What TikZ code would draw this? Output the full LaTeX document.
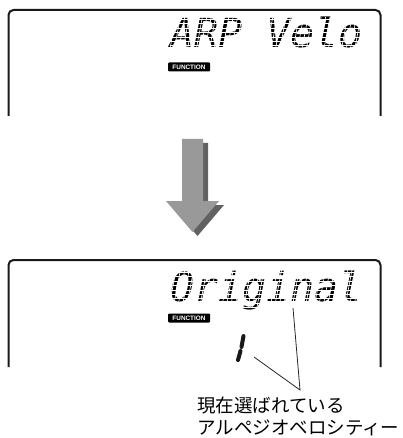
\documentclass[tikz,border=0pt]{standalone}
\usepackage{fontspec}
\setmainfont{Liberation Sans}
\newfontfamily\lcdfont{DejaVu Sans Mono}
\newfontfamily\jpfont{Noto Sans CJK JP}
\tikzset{
  frame/.style={line width=2pt, draw=black!90, rounded corners=5pt},
  lcd/.style={inner sep=0pt, anchor=base west, text=black, font=\lcdfont\itshape\fontsize{40}{40}\selectfont},
  badge/.style={fill=black, rounded corners=1pt, text=white, inner sep=0pt, minimum width=42pt, minimum height=9pt, font=\bfseries\fontsize{6.4}{7}\selectfont},
  arrowmain/.style={fill=black!40},
  arrowshadow/.style={fill=black!62},
  seg/.style={line width=4pt, line cap=round, black!90},
  leader/.style={line width=0.8pt, black!85},
  jp/.style={inner sep=0pt, anchor=north west, align=left, font=\jpfont\fontsize{18.5}{22}\selectfont},
  dotgrid/.style={draw=white, line width=0.65pt}
}
\begin{document}
\begin{tikzpicture}[x=1pt, y=-1pt]
\useasboundingbox (0,0) rectangle (403,438);
% top display
\draw[frame] (8.5,116) -- (8.5,10) -- (380.5,10) -- (380.5,116);
\node[lcd] (t1) at (170,48) {ARP Velo};
\begin{scope}
  \clip (t1.south west) rectangle (t1.north east);
  \foreach \k in {0,...,10} {\draw[dotgrid] (160,15+4.4*\k) -- (380,15+4.4*\k);}
  \foreach \k in {0,...,50} {\draw[dotgrid] (160+4.4*\k,55) -- (160+4.4*\k+8.5,10);}
\end{scope}
\node[badge] (f1) at (189,67) {FUNCTION};
% arrow
\fill[arrowshadow] (187,143) -- (208,143) -- (208,205) -- (224,205) -- (197.5,236) -- (171,205) -- (187,205) -- cycle;
\fill[arrowmain] (182,139) -- (203,139) -- (203,201) -- (219,201) -- (192.5,232) -- (166,201) -- (182,201) -- cycle;
% bottom display
\draw[frame] (8.5,367) -- (8.5,260) -- (380.5,260) -- (380.5,367);
\node[lcd] (t2) at (170,301) {Original};
\begin{scope}
  \clip (t2.south west) rectangle (t2.north east);
  \foreach \k in {0,...,10} {\draw[dotgrid] (160,268+4.4*\k) -- (380,268+4.4*\k);}
  \foreach \k in {0,...,50} {\draw[dotgrid] (160+4.4*\k,308) -- (160+4.4*\k+8.5,263);}
\end{scope}
\node[badge] (f2) at (189,318) {FUNCTION};
% seven-seg "1"
\draw[seg] (243.5,336) -- (241.5,347);
\draw[seg] (240.5,351) -- (238,360);
\coordinate (d1) at (254,357);
\coordinate (o1) at (293,308);
\node[jp] (lab) at (197,397) {現在選ばれている\\アルペジオベロシティー};
\coordinate (apex) at (300,390);
\draw[leader] (d1) -- (apex) -- (o1);
\end{tikzpicture}
\end{document}
